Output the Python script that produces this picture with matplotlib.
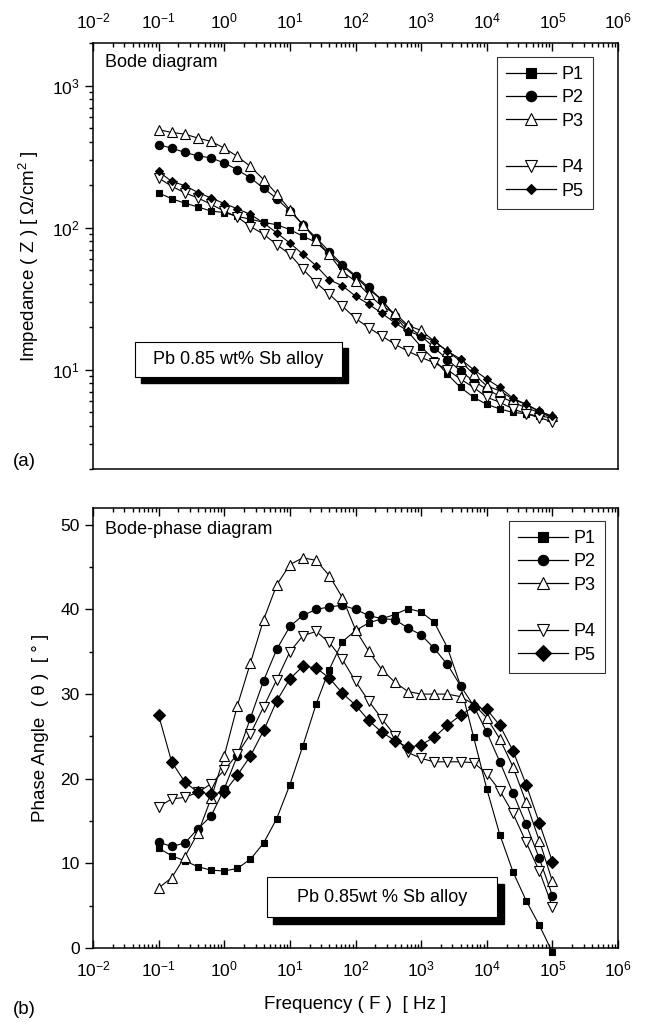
import numpy as np
import matplotlib
matplotlib.use('Agg')
import matplotlib.pyplot as plt
from matplotlib.ticker import LogLocator, MultipleLocator
from matplotlib.lines import Line2D
from matplotlib.patches import Rectangle

plt.rcParams['font.family'] = ['Liberation Sans', 'DejaVu Sans']
plt.rcParams['mathtext.default'] = 'regular'

# measurement frequencies (Hz), 0.1 Hz .. 100 kHz
freq = [0.1, 0.158, 0.251, 0.398, 0.631, 1.0, 1.58, 2.51, 3.98, 6.31,
        10, 15.8, 25.1, 39.8, 63.1, 100, 158, 251, 398, 631,
        1000, 1580, 2510, 3980, 6310, 1e4, 1.58e4, 2.51e4, 3.98e4, 6.31e4, 1e5]

# impedance |Z| (ohm/cm2)
z_p1 = [176, 160, 149, 140, 131, 128, 120, 115, 109, 105, 97, 87, 79, 65, 54, 45, 37, 31, 24,
        18.5, 14.5, 11.8, 9.3, 7.5, 6.4, 5.7, 5.3, 5.0, 4.9, 4.7, 4.6]
z_p2 = [384, 364, 339, 321, 310, 286, 256, 224, 190, 160, 131, 105, 85, 68, 55, 46, 38, 31, 24,
        20, 17.3, 14.3, 11.8, 9.8, 8.3, 7.3, 6.5, 5.9, 5.4, 5.0, 4.6]
z_p3 = [490, 469, 456, 428, 405, 364, 318, 270, 218, 173, 134, 105, 82, 65, 49, 42, 34, 28, 25,
        20.5, 18.9, 15.9, 13.5, 11.5, 9.3, 7.7, 7.1, 6.2, 5.7, 5.1, 4.7]
z_p4 = [224, 196, 176, 162, 146, 131, 119, 102, 90, 76, 65, 51, 41, 34, 28, 23, 19.8, 17.3, 15.1,
        13.5, 12.2, 11.2, 10, 8.6, 7.5, 6.4, 5.9, 5.3, 4.9, 4.6, 4.3]
z_p5 = [249, 212, 198, 177, 162, 148, 136, 124, 108, 92, 78, 65, 54, 43, 39, 33, 29, 25, 21.4,
        18.7, 17.3, 15.9, 13.5, 11.9, 10, 8.6, 7.5, 6.3, 5.7, 5.1, 4.7]

# phase angle (deg)
ph_p1 = [11.8, 10.9, 10.3, 9.6, 9.2, 9.1, 9.4, 10.5, 12.4, 15.3, 19.3, 23.9, 28.8, 32.9, 36.2, 37.5,
         38.4, 38.9, 39.4, 40.1, 39.7, 38.5, 35.5, 31.0, 24.9, 18.8, 13.4, 9.0, 5.6, 2.7, -0.5]
ph_p2 = [12.5, 12.0, 12.4, 14.1, 15.6, 18.8, 22.7, 27.2, 31.6, 35.3, 38.0, 39.3, 40.0, 40.3, 40.5, 40.0,
         39.3, 38.9, 38.8, 37.8, 37.0, 35.4, 33.5, 31.0, 28.6, 25.5, 22.0, 18.3, 14.6, 10.6, 6.2]
ph_p3 = [7.1, 8.3, 10.8, 13.6, 17.7, 22.7, 28.6, 33.7, 38.8, 42.9, 45.3, 46.1, 45.8, 44.0, 41.4, 37.6,
         35.1, 32.9, 31.4, 30.3, 30.0, 30.0, 30.0, 29.7, 28.8, 27.2, 24.7, 21.4, 17.2, 12.7, 7.9]
ph_p4 = [16.7, 17.6, 17.8, 18.4, 19.4, 21.0, 22.9, 25.3, 28.5, 31.7, 35.0, 36.9, 37.4, 36.1, 34.1, 31.5,
         29.2, 27.1, 25.1, 23.1, 22.4, 22.0, 22.0, 22.0, 21.9, 20.6, 18.6, 15.9, 12.5, 9.1, 4.9]
ph_p5 = [27.5, 22.0, 19.6, 18.4, 18.2, 18.4, 20.4, 22.7, 25.7, 29.2, 31.8, 33.3, 33.1, 31.9, 30.1, 28.7,
         26.9, 25.5, 24.5, 23.7, 24.0, 24.9, 26.3, 27.5, 28.5, 28.2, 26.3, 23.3, 19.3, 14.8, 10.2]

labels = ['P1', 'P2', 'P3', 'P4', 'P5']
markers = ['s', 'o', '^', 'v', 'D']
faces = ['black', 'black', 'white', 'white', 'black']
sizes_top = [5, 6, 7, 7, 4]
sizes_bot = [5, 6, 7, 7, 6.5]


def style_axis(ax):
    ax.set_xscale('log')
    ax.set_xlim(1e-2, 1e6)
    ax.xaxis.set_major_locator(LogLocator(base=10, numticks=20))
    ax.xaxis.set_minor_locator(LogLocator(base=10, subs=np.arange(2, 10), numticks=20))
    ax.tick_params(axis='both', which='major', length=6, width=1, labelsize=12.5)
    ax.tick_params(axis='both', which='minor', length=3, width=1)
    ax.tick_params(axis='x', which='both', direction='in', pad=8)
    ax.tick_params(axis='y', which='both', direction='out', right=False)
    for sp in ax.spines.values():
        sp.set_linewidth(1.1)


def shadow_box(ax, x, y, w, h, text):
    ax.add_patch(Rectangle((x + 0.012, y - 0.015), w, h, transform=ax.transAxes,
                           facecolor='black', edgecolor='black', zorder=5))
    ax.add_patch(Rectangle((x, y), w, h, transform=ax.transAxes,
                           facecolor='white', edgecolor='black', lw=0.8, zorder=6))
    ax.text(x + w / 2, y + h / 2, text, transform=ax.transAxes, ha='center', va='center',
            fontsize=13, zorder=7)


def add_legend(ax, sizes, anchor):
    handles = []
    for i in range(5):
        if i == 3:
            handles.append(Line2D([], [], linestyle='none', label=' '))
        handles.append(Line2D([], [], color='black', lw=0.9, marker=markers[i],
                              mfc=faces[i], mec='black', ms=sizes[i] + 1.5, mew=0.8,
                              label=labels[i]))
    leg = ax.legend(handles=handles, loc='upper right', bbox_to_anchor=anchor,
                    fontsize=13, frameon=True, fancybox=False, handlelength=2.8,
                    labelspacing=0.35, borderpad=0.5, handletextpad=0.3,
                    borderaxespad=0)
    leg.get_frame().set_edgecolor('black')
    leg.get_frame().set_linewidth(0.8)


fig = plt.figure(figsize=(6.54, 10.26), dpi=100)
ax1 = fig.add_axes([0.1422, 0.5429, 0.8028, 0.4152])
ax2 = fig.add_axes([0.1422, 0.0760, 0.8028, 0.4290])

# (a) Bode diagram
for i, z in enumerate([z_p1, z_p2, z_p3, z_p4, z_p5]):
    ax1.plot(freq, z, color='black', lw=0.8, marker=markers[i], mfc=faces[i], mec='black',
             ms=sizes_top[i], mew=0.8, clip_on=False, zorder=3)
style_axis(ax1)
ax1.set_yscale('log')
ax1.set_ylim(2, 2000)
ax1.yaxis.set_major_locator(LogLocator(base=10, numticks=10))
ax1.yaxis.set_minor_locator(LogLocator(base=10, subs=np.arange(2, 10), numticks=10))
ax1.tick_params(axis='x', which='both', top=True, bottom=False, labeltop=True, labelbottom=False)
ax1.set_ylabel('Impedance ( Z ) [ \u03a9/cm$^2$ ]', fontsize=13.5, labelpad=8)
ax1.text(0.023, 0.955, 'Bode diagram', transform=ax1.transAxes, fontsize=13, va='center')
shadow_box(ax1, 0.080, 0.216, 0.394, 0.082, 'Pb 0.85 wt% Sb alloy')
add_legend(ax1, sizes_top, (0.952, 0.967))

# (b) Bode-phase diagram
for i, ph in enumerate([ph_p1, ph_p2, ph_p3, ph_p4, ph_p5]):
    ax2.plot(freq, ph, color='black', lw=0.8, marker=markers[i], mfc=faces[i], mec='black',
             ms=sizes_bot[i], mew=0.8, clip_on=False, zorder=3)
style_axis(ax2)
ax2.set_ylim(0, 52)
ax2.yaxis.set_major_locator(MultipleLocator(10))
ax2.yaxis.set_minor_locator(MultipleLocator(5))
ax2.tick_params(axis='x', which='both', top=True, bottom=True, labeltop=False, labelbottom=True)
ax2.set_ylabel('Phase Angle  ( \u03b8 )  [ \u00b0 ]', fontsize=13.5, labelpad=8)
ax2.set_xlabel('Frequency ( F )  [ Hz ]', fontsize=13.5, labelpad=12)
ax2.text(0.023, 0.95, 'Bode-phase diagram', transform=ax2.transAxes, fontsize=13, va='center')
shadow_box(ax2, 0.331, 0.070, 0.439, 0.091, 'Pb 0.85wt % Sb alloy')
add_legend(ax2, sizes_bot, (0.975, 0.970))

fig.text(0.020, 0.550, '(a)', fontsize=13.5, va='center')
fig.text(0.020, 0.016, '(b)', fontsize=13.5, va='center')

fig.savefig('out.png', dpi=100)
